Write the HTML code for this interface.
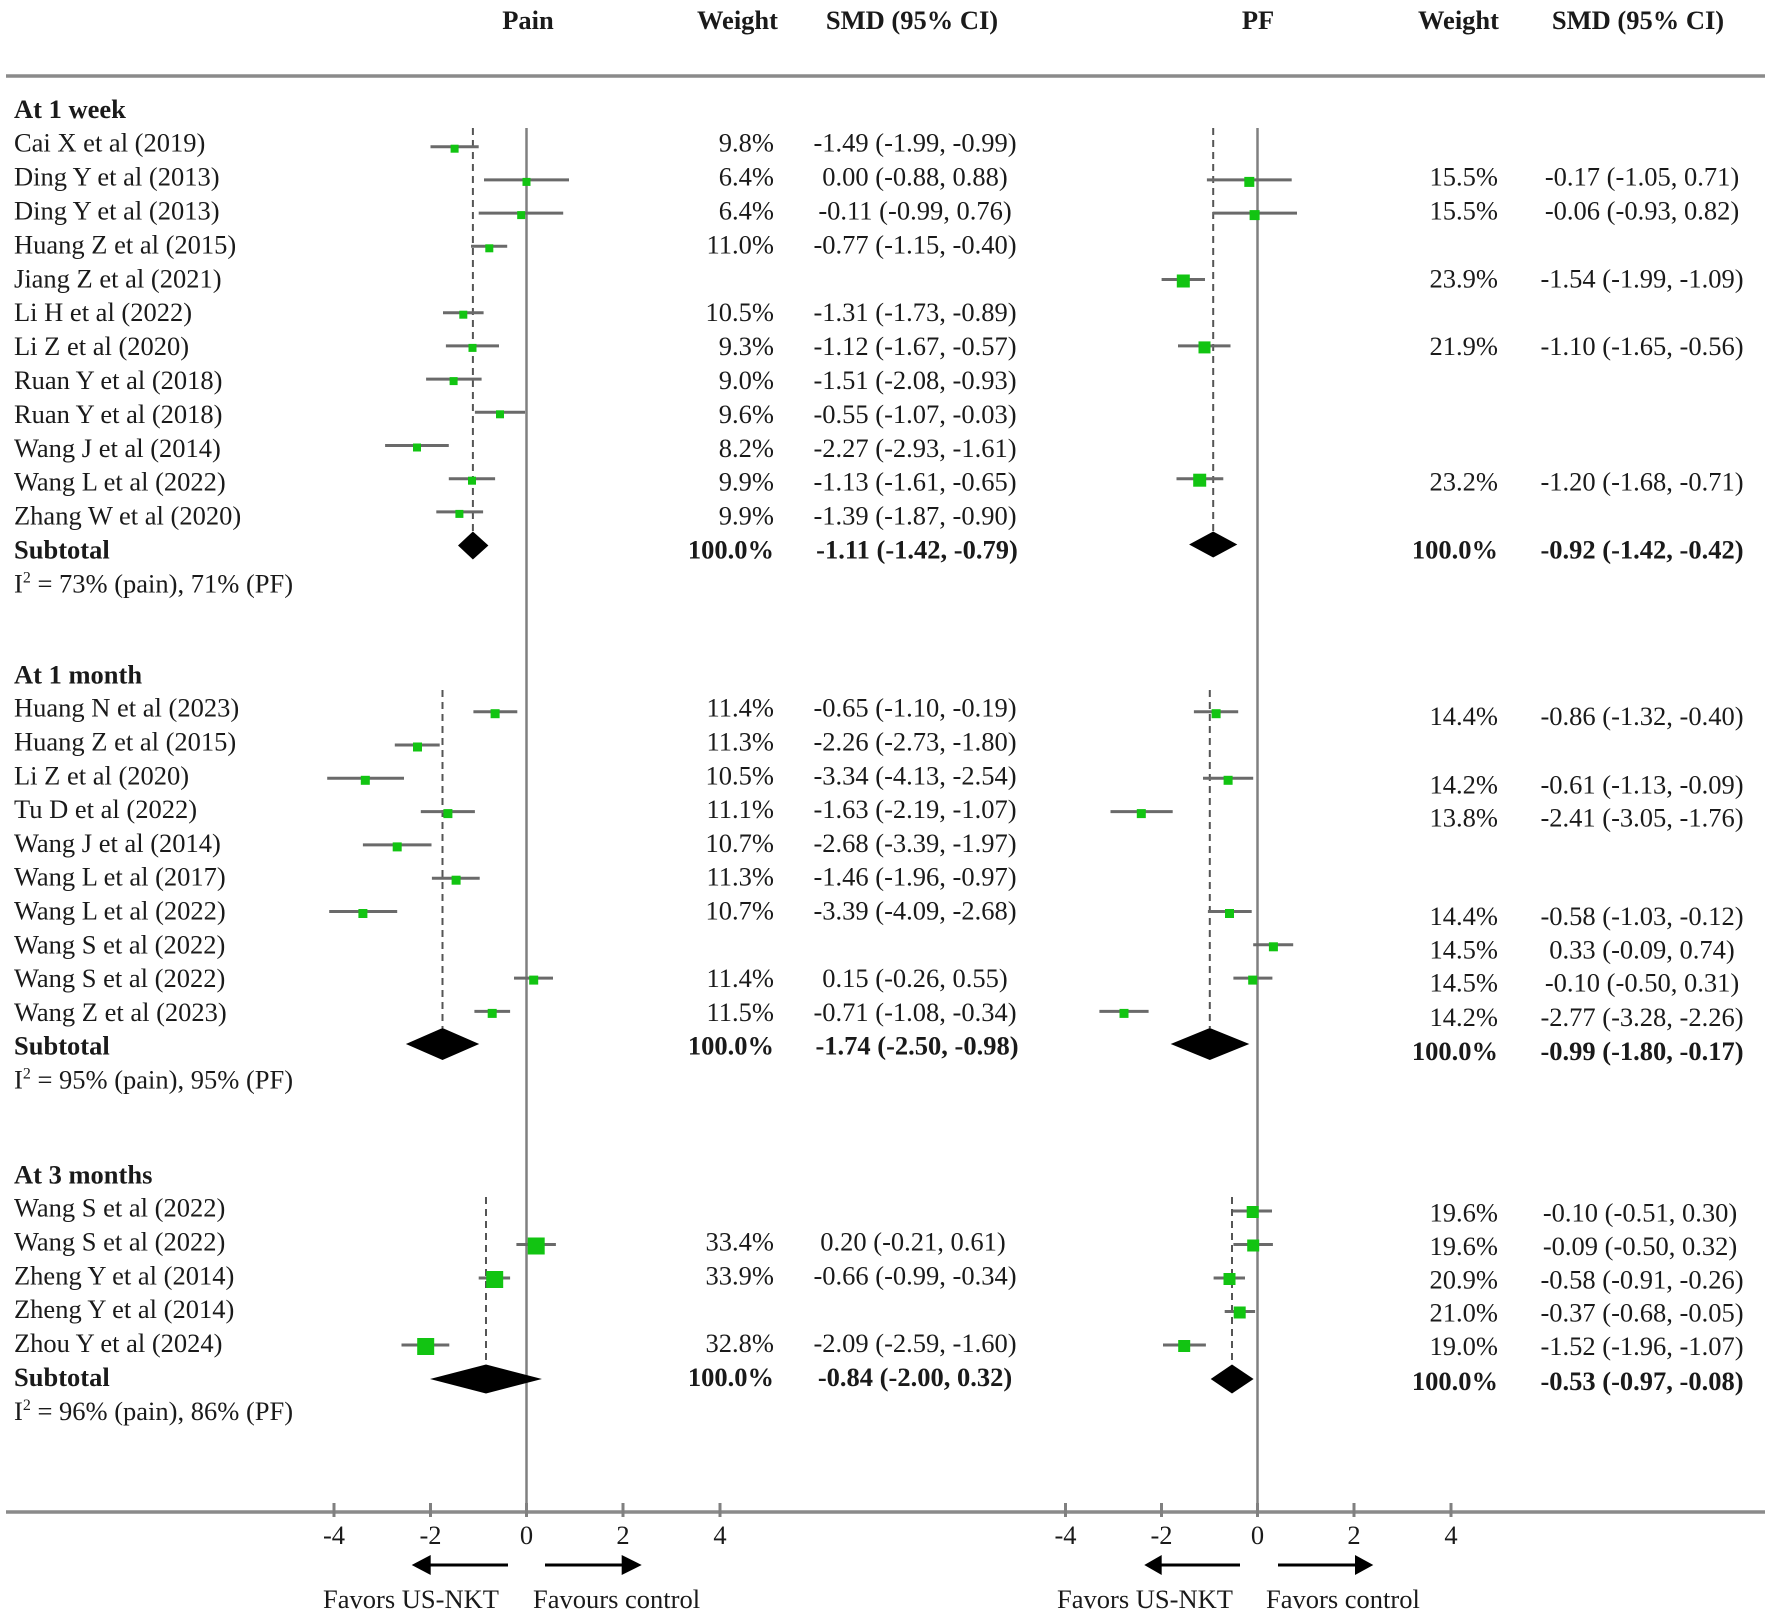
<!DOCTYPE html>
<html><head><meta charset="utf-8"><style>
html,body{margin:0;padding:0;background:#fff;}
svg{display:block;}
text{font-family:"Liberation Serif","Times New Roman",serif;font-size:26.5px;fill:#1a1a1a;}
.b{font-weight:bold;}
.r{text-anchor:end;}
.m{text-anchor:middle;}
.ci{stroke:#6a6a6a;stroke-width:3;}
.mk{fill:#12c412;}
.dash{stroke:#555;stroke-width:2;stroke-dasharray:7,5;}
.zero{stroke:#808080;stroke-width:2.5;}
.hl{stroke:#8a8a8a;stroke-width:3.5;}
</style></head><body>
<svg width="1772" height="1617" viewBox="0 0 1772 1617" xmlns="http://www.w3.org/2000/svg">
<rect width="1772" height="1617" fill="#fff"/>
<!-- header -->
<text class="b m" x="528" y="29">Pain</text>
<text class="b r" x="778" y="29">Weight</text>
<text class="b m" x="912" y="29">SMD (95% CI)</text>
<text class="b m" x="1258" y="29">PF</text>
<text class="b r" x="1499" y="29">Weight</text>
<text class="b m" x="1638" y="29">SMD (95% CI)</text>
<line class="hl" x1="6" y1="76" x2="1765" y2="76"/>
<line class="hl" x1="6" y1="1512" x2="1765" y2="1512"/>
<!-- zero lines -->
<line class="zero" x1="526.5" y1="128" x2="526.5" y2="1512"/>
<line class="zero" x1="1257.5" y1="128" x2="1257.5" y2="1512"/>
<!-- dashed lines -->
<line class="dash" x1="472.9" y1="128" x2="472.9" y2="532"/>
<line class="dash" x1="1213.2" y1="128" x2="1213.2" y2="531"/>
<line class="dash" x1="442.5" y1="690" x2="442.5" y2="1028"/>
<line class="dash" x1="1209.8" y1="690" x2="1209.8" y2="1028"/>
<line class="dash" x1="486" y1="1197" x2="486" y2="1364"/>
<line class="dash" x1="1232" y1="1197" x2="1232" y2="1364"/>

<!-- ===== WEEK ===== -->
<text class="b" x="14" y="118">At 1 week</text>
<text x="14" y="151.7">Cai X et al (2019)</text>
<text x="14" y="185.6">Ding Y et al (2013)</text>
<text x="14" y="219.5">Ding Y et al (2013)</text>
<text x="14" y="253.4">Huang Z et al (2015)</text>
<text x="14" y="287.3">Jiang Z et al (2021)</text>
<text x="14" y="321.2">Li H et al (2022)</text>
<text x="14" y="355.1">Li Z et al (2020)</text>
<text x="14" y="389">Ruan Y et al (2018)</text>
<text x="14" y="422.9">Ruan Y et al (2018)</text>
<text x="14" y="456.8">Wang J et al (2014)</text>
<text x="14" y="490.7">Wang L et al (2022)</text>
<text x="14" y="524.6">Zhang W et al (2020)</text>
<text class="b" x="14" y="558.5">Subtotal</text>
<text x="14" y="592.4">I<tspan font-size="16" dy="-10">2</tspan><tspan dy="10"> = 73% (pain), 71% (PF)</tspan></text>

<text class="r" x="774" y="151.7">9.8%</text><text class="m" x="915" y="151.7">-1.49 (-1.99, -0.99)</text>
<text class="r" x="774" y="185.6">6.4%</text><text class="m" x="915" y="185.6">0.00 (-0.88, 0.88)</text>
<text class="r" x="774" y="219.5">6.4%</text><text class="m" x="915" y="219.5">-0.11 (-0.99, 0.76)</text>
<text class="r" x="774" y="253.4">11.0%</text><text class="m" x="915" y="253.4">-0.77 (-1.15, -0.40)</text>
<text class="r" x="774" y="321.2">10.5%</text><text class="m" x="915" y="321.2">-1.31 (-1.73, -0.89)</text>
<text class="r" x="774" y="355.1">9.3%</text><text class="m" x="915" y="355.1">-1.12 (-1.67, -0.57)</text>
<text class="r" x="774" y="389">9.0%</text><text class="m" x="915" y="389">-1.51 (-2.08, -0.93)</text>
<text class="r" x="774" y="422.9">9.6%</text><text class="m" x="915" y="422.9">-0.55 (-1.07, -0.03)</text>
<text class="r" x="774" y="456.8">8.2%</text><text class="m" x="915" y="456.8">-2.27 (-2.93, -1.61)</text>
<text class="r" x="774" y="490.7">9.9%</text><text class="m" x="915" y="490.7">-1.13 (-1.61, -0.65)</text>
<text class="r" x="774" y="524.6">9.9%</text><text class="m" x="915" y="524.6">-1.39 (-1.87, -0.90)</text>
<text class="b r" x="774" y="558.5">100.0%</text><text class="b m" x="917" y="558.5">-1.11 (-1.42, -0.79)</text>

<text class="r" x="1498" y="185.6">15.5%</text><text class="m" x="1642" y="185.6">-0.17 (-1.05, 0.71)</text>
<text class="r" x="1498" y="219.5">15.5%</text><text class="m" x="1642" y="219.5">-0.06 (-0.93, 0.82)</text>
<text class="r" x="1498" y="287.3">23.9%</text><text class="m" x="1642" y="287.3">-1.54 (-1.99, -1.09)</text>
<text class="r" x="1498" y="355.1">21.9%</text><text class="m" x="1642" y="355.1">-1.10 (-1.65, -0.56)</text>
<text class="r" x="1498" y="490.7">23.2%</text><text class="m" x="1642" y="490.7">-1.20 (-1.68, -0.71)</text>
<text class="b r" x="1498" y="558.5">100.0%</text><text class="b m" x="1642" y="558.5">-0.92 (-1.42, -0.42)</text>

<!-- week pain markers -->
<line class="ci" x1="430.5" y1="146.7" x2="478.7" y2="146.7"/><rect class="mk" x="450.6" y="144.7" width="8" height="8"/>
<line class="ci" x1="484" y1="179.9" x2="569" y2="179.9"/><rect class="mk" x="522.5" y="177.9" width="8" height="8"/>
<line class="ci" x1="478.7" y1="213.1" x2="563.2" y2="213.1"/><rect class="mk" x="517.2" y="211.1" width="8" height="8"/>
<line class="ci" x1="471" y1="246.3" x2="507.2" y2="246.3"/><rect class="mk" x="485.3" y="244.3" width="8" height="8"/>
<line class="ci" x1="443" y1="312.7" x2="483.6" y2="312.7"/><rect class="mk" x="459.3" y="310.7" width="8" height="8"/>
<line class="ci" x1="445.9" y1="345.9" x2="499" y2="345.9"/><rect class="mk" x="468.5" y="343.9" width="8" height="8"/>
<line class="ci" x1="426.1" y1="379.1" x2="481.6" y2="379.1"/><rect class="mk" x="449.6" y="377.1" width="8" height="8"/>
<line class="ci" x1="474.9" y1="412.3" x2="525.1" y2="412.3"/><rect class="mk" x="496" y="410.3" width="8" height="8"/>
<line class="ci" x1="385.1" y1="445.5" x2="448.8" y2="445.5"/><rect class="mk" x="413" y="443.5" width="8" height="8"/>
<line class="ci" x1="448.8" y1="478.7" x2="495.1" y2="478.7"/><rect class="mk" x="468" y="476.7" width="8" height="8"/>
<line class="ci" x1="436.3" y1="511.9" x2="483.1" y2="511.9"/><rect class="mk" x="455.4" y="509.9" width="8" height="8"/>
<polygon points="458,545.5 472.9,531.5 488.4,545.5 472.9,559.5" fill="#000"/>
<!-- week PF markers -->
<line class="ci" x1="1206.9" y1="179.9" x2="1291.7" y2="179.9"/><rect class="mk" x="1244.3" y="176.9" width="10" height="10"/>
<line class="ci" x1="1212.7" y1="213.1" x2="1297" y2="213.1"/><rect class="mk" x="1249.6" y="210.1" width="10" height="10"/>
<line class="ci" x1="1161.6" y1="279.5" x2="1205" y2="279.5"/><rect class="mk" x="1176.8" y="274.5" width="13" height="13"/>
<line class="ci" x1="1178" y1="345.9" x2="1230.5" y2="345.9"/><rect class="mk" x="1198.5" y="341.4" width="12" height="12"/>
<line class="ci" x1="1176.5" y1="478.7" x2="1223.3" y2="478.7"/><rect class="mk" x="1193.2" y="473.7" width="13" height="13"/>
<polygon points="1189.1,544.5 1213.2,531.5 1237.3,544.5 1213.2,557.5" fill="#000"/>

<!-- ===== MONTH ===== -->
<text class="b" x="14" y="683.3">At 1 month</text>
<text x="14" y="716.7">Huang N et al (2023)</text>
<text x="14" y="750.5">Huang Z et al (2015)</text>
<text x="14" y="784.3">Li Z et al (2020)</text>
<text x="14" y="818.1">Tu D et al (2022)</text>
<text x="14" y="851.9">Wang J et al (2014)</text>
<text x="14" y="885.7">Wang L et al (2017)</text>
<text x="14" y="919.5">Wang L et al (2022)</text>
<text x="14" y="953.3">Wang S et al (2022)</text>
<text x="14" y="987.1">Wang S et al (2022)</text>
<text x="14" y="1020.9">Wang Z et al (2023)</text>
<text class="b" x="14" y="1054.7">Subtotal</text>
<text x="14" y="1088.5">I<tspan font-size="16" dy="-10">2</tspan><tspan dy="10"> = 95% (pain), 95% (PF)</tspan></text>

<text class="r" x="774" y="716.7">11.4%</text><text class="m" x="915" y="716.7">-0.65 (-1.10, -0.19)</text>
<text class="r" x="774" y="750.5">11.3%</text><text class="m" x="915" y="750.5">-2.26 (-2.73, -1.80)</text>
<text class="r" x="774" y="784.3">10.5%</text><text class="m" x="915" y="784.3">-3.34 (-4.13, -2.54)</text>
<text class="r" x="774" y="818.1">11.1%</text><text class="m" x="915" y="818.1">-1.63 (-2.19, -1.07)</text>
<text class="r" x="774" y="851.9">10.7%</text><text class="m" x="915" y="851.9">-2.68 (-3.39, -1.97)</text>
<text class="r" x="774" y="885.7">11.3%</text><text class="m" x="915" y="885.7">-1.46 (-1.96, -0.97)</text>
<text class="r" x="774" y="919.5">10.7%</text><text class="m" x="915" y="919.5">-3.39 (-4.09, -2.68)</text>
<text class="r" x="774" y="987.1">11.4%</text><text class="m" x="915" y="987.1">0.15 (-0.26, 0.55)</text>
<text class="r" x="774" y="1020.9">11.5%</text><text class="m" x="915" y="1020.9">-0.71 (-1.08, -0.34)</text>
<text class="b r" x="774" y="1054.7">100.0%</text><text class="b m" x="917" y="1054.7">-1.74 (-2.50, -0.98)</text>

<text class="r" x="1498" y="725">14.4%</text><text class="m" x="1642" y="725">-0.86 (-1.32, -0.40)</text>
<text class="r" x="1498" y="793.3">14.2%</text><text class="m" x="1642" y="793.3">-0.61 (-1.13, -0.09)</text>
<text class="r" x="1498" y="826.7">13.8%</text><text class="m" x="1642" y="826.7">-2.41 (-3.05, -1.76)</text>
<text class="r" x="1498" y="925">14.4%</text><text class="m" x="1642" y="925">-0.58 (-1.03, -0.12)</text>
<text class="r" x="1498" y="958.3">14.5%</text><text class="m" x="1642" y="958.3">0.33 (-0.09, 0.74)</text>
<text class="r" x="1498" y="991.7">14.5%</text><text class="m" x="1642" y="991.7">-0.10 (-0.50, 0.31)</text>
<text class="r" x="1498" y="1026">14.2%</text><text class="m" x="1642" y="1026">-2.77 (-3.28, -2.26)</text>
<text class="b r" x="1498" y="1060">100.0%</text><text class="b m" x="1642" y="1060">-0.99 (-1.80, -0.17)</text>

<!-- month pain markers -->
<line class="ci" x1="473.4" y1="711.7" x2="517.3" y2="711.7"/><rect class="mk" x="490.6" y="709.2" width="9" height="9"/>
<line class="ci" x1="394.8" y1="745" x2="439.7" y2="745"/><rect class="mk" x="413" y="742.5" width="9" height="9"/>
<line class="ci" x1="327.2" y1="778.3" x2="404" y2="778.3"/><rect class="mk" x="360.8" y="775.8" width="9" height="9"/>
<line class="ci" x1="420.8" y1="811.6" x2="474.9" y2="811.6"/><rect class="mk" x="443.4" y="809.1" width="9" height="9"/>
<line class="ci" x1="362.9" y1="844.9" x2="431.5" y2="844.9"/><rect class="mk" x="392.7" y="842.4" width="9" height="9"/>
<line class="ci" x1="431.9" y1="878.2" x2="479.7" y2="878.2"/><rect class="mk" x="451.6" y="875.7" width="9" height="9"/>
<line class="ci" x1="329.2" y1="911.5" x2="397.2" y2="911.5"/><rect class="mk" x="358.4" y="909" width="9" height="9"/>
<line class="ci" x1="514" y1="978.1" x2="553" y2="978.1"/><rect class="mk" x="529.2" y="975.6" width="9" height="9"/>
<line class="ci" x1="474.4" y1="1011.4" x2="510.1" y2="1011.4"/><rect class="mk" x="487.7" y="1008.9" width="9" height="9"/>
<polygon points="405.9,1044 442.5,1028 479.2,1044 442.5,1060" fill="#000"/>
<!-- month PF markers -->
<line class="ci" x1="1193.9" y1="711.7" x2="1238.2" y2="711.7"/><rect class="mk" x="1211.6" y="709.2" width="9" height="9"/>
<line class="ci" x1="1203" y1="778.3" x2="1253.2" y2="778.3"/><rect class="mk" x="1223.6" y="775.8" width="9" height="9"/>
<line class="ci" x1="1110.5" y1="811.6" x2="1172.7" y2="811.6"/><rect class="mk" x="1136.8" y="809.1" width="9" height="9"/>
<line class="ci" x1="1207.9" y1="911.5" x2="1251.7" y2="911.5"/><rect class="mk" x="1225" y="909" width="9" height="9"/>
<line class="ci" x1="1253.2" y1="944.8" x2="1293.2" y2="944.8"/><rect class="mk" x="1268.9" y="942.3" width="9" height="9"/>
<line class="ci" x1="1233.4" y1="978.1" x2="1272.4" y2="978.1"/><rect class="mk" x="1248.2" y="975.6" width="9" height="9"/>
<line class="ci" x1="1099.4" y1="1011.4" x2="1148.6" y2="1011.4"/><rect class="mk" x="1119.5" y="1008.9" width="9" height="9"/>
<polygon points="1170.7,1044 1209.8,1028 1249.3,1044 1209.8,1060" fill="#000"/>

<!-- ===== 3 MONTHS ===== -->
<text class="b" x="14" y="1183.3">At 3 months</text>
<text x="14" y="1216.7">Wang S et al (2022)</text>
<text x="14" y="1250.3">Wang S et al (2022)</text>
<text x="14" y="1284.3">Zheng Y et al (2014)</text>
<text x="14" y="1318.2">Zheng Y et al (2014)</text>
<text x="14" y="1351.8">Zhou Y et al (2024)</text>
<text class="b" x="14" y="1386">Subtotal</text>
<text x="14" y="1420">I<tspan font-size="16" dy="-10">2</tspan><tspan dy="10"> = 96% (pain), 86% (PF)</tspan></text>

<text class="r" x="774" y="1250.3">33.4%</text><text class="m" x="913" y="1250.3">0.20 (-0.21, 0.61)</text>
<text class="r" x="774" y="1284.3">33.9%</text><text class="m" x="915" y="1284.3">-0.66 (-0.99, -0.34)</text>
<text class="r" x="774" y="1351.8">32.8%</text><text class="m" x="915" y="1351.8">-2.09 (-2.59, -1.60)</text>
<text class="b r" x="774" y="1386">100.0%</text><text class="b m" x="915" y="1386">-0.84 (-2.00, 0.32)</text>

<text class="r" x="1498" y="1221.7">19.6%</text><text class="m" x="1640" y="1221.7">-0.10 (-0.51, 0.30)</text>
<text class="r" x="1498" y="1255">19.6%</text><text class="m" x="1640" y="1255">-0.09 (-0.50, 0.32)</text>
<text class="r" x="1498" y="1288.3">20.9%</text><text class="m" x="1642" y="1288.3">-0.58 (-0.91, -0.26)</text>
<text class="r" x="1498" y="1321.7">21.0%</text><text class="m" x="1642" y="1321.7">-0.37 (-0.68, -0.05)</text>
<text class="r" x="1498" y="1355">19.0%</text><text class="m" x="1642" y="1355">-1.52 (-1.96, -1.07)</text>
<text class="b r" x="1498" y="1390">100.0%</text><text class="b m" x="1642" y="1390">-0.53 (-0.97, -0.08)</text>

<!-- 3mo pain markers -->
<line class="ci" x1="516.4" y1="1244.5" x2="555.9" y2="1244.5"/><rect class="mk" x="527.7" y="1237.5" width="17" height="17"/>
<line class="ci" x1="478.7" y1="1278" x2="510.1" y2="1278"/><rect class="mk" x="486.2" y="1271" width="17" height="17"/>
<line class="ci" x1="401.5" y1="1345" x2="449.3" y2="1345"/><rect class="mk" x="417.2" y="1338" width="17" height="17"/>
<polygon points="430,1379 486,1364.5 541.9,1379 486,1393.5" fill="#000"/>
<!-- 3mo PF markers -->
<line class="ci" x1="1232.9" y1="1211" x2="1272" y2="1211"/><rect class="mk" x="1246.7" y="1206" width="12" height="12"/>
<line class="ci" x1="1233.4" y1="1244.5" x2="1272.9" y2="1244.5"/><rect class="mk" x="1247.2" y="1239.5" width="12" height="12"/>
<line class="ci" x1="1213.6" y1="1278" x2="1245" y2="1278"/><rect class="mk" x="1223.5" y="1273" width="12" height="12"/>
<line class="ci" x1="1224.7" y1="1311.5" x2="1255.1" y2="1311.5"/><rect class="mk" x="1233.7" y="1306.5" width="12" height="12"/>
<line class="ci" x1="1163" y1="1345" x2="1205.9" y2="1345"/><rect class="mk" x="1178.2" y="1340" width="12" height="12"/>
<polygon points="1210.7,1379 1232,1364.5 1253.6,1379 1232,1393.5" fill="#000"/>

<!-- axis ticks -->
<g stroke="#808080" stroke-width="3">
<line x1="334" y1="1503" x2="334" y2="1517"/><line x1="430.5" y1="1503" x2="430.5" y2="1517"/><line x1="526.5" y1="1503" x2="526.5" y2="1517"/><line x1="623" y1="1503" x2="623" y2="1517"/><line x1="720" y1="1503" x2="720" y2="1517"/>
<line x1="1065.5" y1="1503" x2="1065.5" y2="1517"/><line x1="1161.5" y1="1503" x2="1161.5" y2="1517"/><line x1="1257.5" y1="1503" x2="1257.5" y2="1517"/><line x1="1354" y1="1503" x2="1354" y2="1517"/><line x1="1451" y1="1503" x2="1451" y2="1517"/>
</g>
<text class="m" x="334" y="1544">-4</text><text class="m" x="430.5" y="1544">-2</text><text class="m" x="526.5" y="1544">0</text><text class="m" x="623" y="1544">2</text><text class="m" x="720" y="1544">4</text>
<text class="m" x="1065.5" y="1544">-4</text><text class="m" x="1161.5" y="1544">-2</text><text class="m" x="1257.5" y="1544">0</text><text class="m" x="1354" y="1544">2</text><text class="m" x="1451" y="1544">4</text>

<!-- arrows -->
<g stroke="#000" stroke-width="3">
<line x1="430" y1="1565" x2="508" y2="1565"/><line x1="545" y1="1565" x2="622" y2="1565"/>
<line x1="1161" y1="1565" x2="1240" y2="1565"/><line x1="1278" y1="1565" x2="1355" y2="1565"/>
</g>
<polygon points="411.7,1565 430.7,1555 430.7,1575" fill="#000"/>
<polygon points="641.7,1565 621.7,1555 621.7,1575" fill="#000"/>
<polygon points="1144.3,1565 1161.7,1555 1161.7,1575" fill="#000"/>
<polygon points="1373.3,1565 1355,1555 1355,1575" fill="#000"/>

<text x="323" y="1608">Favors US-NKT</text>
<text x="533" y="1608">Favours control</text>
<text x="1057" y="1608">Favors US-NKT</text>
<text x="1266" y="1608">Favors control</text>
</svg>
</body></html>
